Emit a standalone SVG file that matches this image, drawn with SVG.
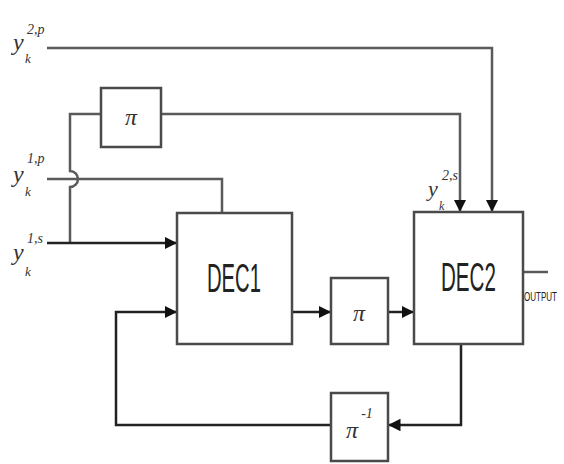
<svg xmlns="http://www.w3.org/2000/svg" width="564" height="464" viewBox="0 0 564 464">
<style>
.box{fill:#fff;stroke:#4a4a4a;stroke-width:2.5}
.ln{fill:none;stroke:#5a5a5a;stroke-width:2.5}
.dk{fill:none;stroke:#222;stroke-width:2.5}
.lbl{font-family:"Liberation Sans",Arial,sans-serif;fill:#222}
.mth{font-family:"Liberation Serif","Times New Roman",serif;font-style:italic;fill:#333}
</style>
<defs>
<marker id="ah" viewBox="0 0 10 10" refX="10" refY="5" markerWidth="5" markerHeight="5" orient="auto" markerUnits="strokeWidth">
<path d="M0,0 L10,5 L0,10 z" fill="#111"/>
</marker>
</defs>
<rect width="564" height="464" fill="#fff"/>
<g id="connectors">
<path class="ln" d="M47,48 H492 V212" marker-end="url(#ah)"/>
<path class="ln" d="M70,243 V187 A8,8 0 0 0 70,171 V114 H101"/>
<path class="ln" d="M161,114 H460 V212" marker-end="url(#ah)"/>
<path class="ln" d="M47,179 H222 V213"/>
<path class="dk" d="M47,243 H177" marker-end="url(#ah)"/>
<path class="dk" d="M292,312 H331" marker-end="url(#ah)"/>
<path class="dk" d="M388,312 H414" marker-end="url(#ah)"/>
<path class="dk" d="M461,344 V425 H388" marker-end="url(#ah)"/>
<path class="dk" d="M331,425 H116 V312 H177" marker-end="url(#ah)"/>
<path class="ln" d="M523,272 H548"/>
</g>
<g id="pi_top">
<rect class="box" x="101" y="88" width="60" height="59"/>
<text class="mth" x="131" y="125" font-size="24" text-anchor="middle">π</text>
</g>
<g id="dec1">
<rect class="box" x="177" y="213" width="115" height="131"/>
<text class="lbl" transform="translate(207,292) scale(0.505,1)" font-size="40">DEC1</text>
</g>
<g id="pi_mid">
<rect class="box" x="331" y="278" width="57" height="66"/>
<text class="mth" x="359" y="321" font-size="24" text-anchor="middle">π</text>
</g>
<g id="dec2">
<rect class="box" x="414" y="212" width="109" height="132"/>
<text class="lbl" transform="translate(441,291) scale(0.514,1)" font-size="40">DEC2</text>
</g>
<g id="pi_inv">
<rect class="box" x="331" y="393" width="57" height="68"/>
<text class="mth" x="352" y="438" font-size="24" text-anchor="middle">π</text>
<text class="mth" x="367" y="418" font-size="14" text-anchor="middle" font-style="normal">-1</text>
</g>
<g id="output">
<text class="lbl" transform="translate(524,301) scale(0.67,1)" font-size="12">OUTPUT</text>
</g>
<g id="labels">
<text class="mth" x="13" y="50" font-size="24">y</text>
<text class="mth" x="25" y="63" font-size="13">k</text>
<text class="mth" x="27" y="34" font-size="14">2,p</text>
<text class="mth" x="13" y="182" font-size="24">y</text>
<text class="mth" x="25" y="196" font-size="13">k</text>
<text class="mth" x="27" y="163" font-size="14">1,p</text>
<text class="mth" x="13" y="260" font-size="24">y</text>
<text class="mth" x="25" y="276" font-size="13">k</text>
<text class="mth" x="27" y="243" font-size="14">1,s</text>
<text class="mth" x="428" y="196" font-size="22">y</text>
<text class="mth" x="439" y="210" font-size="12">k</text>
<text class="mth" x="442" y="180" font-size="14">2,s</text>
</g>
</svg>
